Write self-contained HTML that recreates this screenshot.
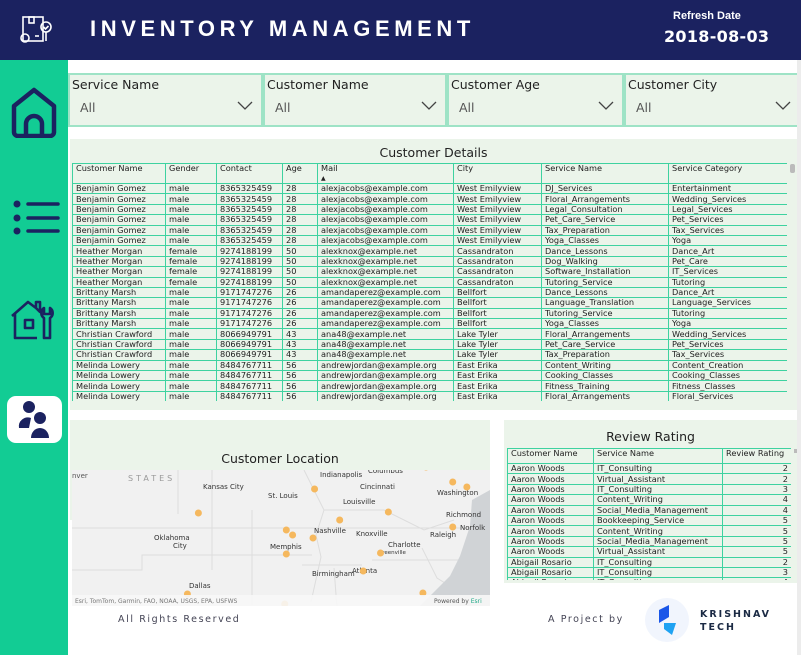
<!DOCTYPE html>
<html><head><meta charset="utf-8">
<style>
*{box-sizing:border-box;margin:0;padding:0}
body{width:801px;height:655px;overflow:hidden;background:#fff;font-family:"DejaVu Sans","Liberation Sans",sans-serif;position:relative;color:#222}
.abs{position:absolute}
#header{left:0;top:0;width:801px;height:60px;background:#1b2260}
#title{left:90px;top:16px;color:#fff;font:bold 22px "Liberation Sans",sans-serif;letter-spacing:4.6px}
#sidebar{left:0;top:60px;width:68px;height:595px;background:#12cc94}
.slicer{top:73px;height:54px;background:#ebf4ea;border:2px solid #9ee3c6}
.slicer .lbl{position:absolute;left:2px;top:2px;font-size:12.5px;color:#222}
.slicer .val{position:absolute;left:10px;top:25px;font-size:12.5px;color:#555}
.slicer .chev{position:absolute;right:8px;top:24px;width:16px;height:12px}
.panel{background:#ebf4ea}
table{border-collapse:collapse;font-size:8.2px;table-layout:fixed}
td,th{border:1px solid #3ed2a0;padding:0 3px;height:10.4px;line-height:9px;white-space:nowrap;overflow:hidden;text-align:left;font-weight:normal;color:#222}
th{height:15px;vertical-align:top;padding-top:0}
.num{text-align:right}
</style></head><body>
<div id="header" class="abs">
 <svg class="abs" style="left:17px;top:14px" width="40" height="32" viewBox="0 0 40 32" fill="none" stroke="#fff" stroke-width="1.6">
  <rect x="6" y="3" width="20" height="24"/><rect x="12" y="3" width="5" height="6"/><circle cx="29" cy="13" r="5"/><path d="M29 18v9M26.5 13l2 2 3-3"/><circle cx="8" cy="24" r="4"/><path d="M18 22h4"/>
 </svg>
 <div id="title" class="abs">INVENTORY MANAGEMENT</div>
 <div class="abs" style="left:673px;top:10px;color:#fff;font:bold 11px 'Liberation Sans',sans-serif">Refresh Date</div>
 <div class="abs" style="left:664px;top:27px;color:#fff;font:bold 16px 'DejaVu Sans',sans-serif;letter-spacing:.3px">2018-08-03</div>
</div>
<div id="sidebar" class="abs">
 <svg class="abs" style="left:10px;top:26px" width="48" height="52" viewBox="0 0 48 52" fill="none" stroke="#1b2260" stroke-width="4.5" stroke-linejoin="round"><path d="M4 20L24 4l20 16v26a4 4 0 0 1-4 4H8a4 4 0 0 1-4-4z"/><path d="M16 50V38a8 8 0 0 1 16 0v12"/></svg>
 <svg class="abs" style="left:12px;top:138px" width="48" height="40" viewBox="0 0 48 40" fill="#1b2260" stroke="#1b2260" stroke-width="3.5" stroke-linecap="round"><circle cx="5" cy="6" r="3.5" stroke="none"/><circle cx="5" cy="20" r="3.5" stroke="none"/><circle cx="5" cy="33" r="3.5" stroke="none"/><path d="M16 6h30M16 20h30M16 33h30"/></svg>
 <svg class="abs" style="left:10px;top:234px" width="50" height="46" viewBox="0 0 50 46" fill="none" stroke="#1b2260" stroke-width="2.6" stroke-linejoin="round"><path d="M2 22L18 8l8 6V8h4v10l-4-4M5 20v24h22"/><rect x="15" y="26" width="8" height="8"/><path d="M34 14a6 6 0 0 0 0 10v20h6V24a6 6 0 0 0 0-10v6h-6z"/></svg>
 <div class="abs" style="left:7px;top:336px;width:55px;height:47px;background:#fff;border-radius:9px">
  <svg width="55" height="47" viewBox="0 0 55 47" fill="#1b2260"><circle cx="22" cy="11" r="6"/><path d="M12 32a9 9 0 0 1 12-10l-2 10z"/><circle cx="33" cy="22" r="6"/><path d="M24 42a9 10 0 0 1 18 0z"/></svg>
 </div>
</div>

<div class="abs slicer" style="left:68px;width:195px"><div class="lbl">Service Name</div><div class="val">All</div><svg class="chev" viewBox="0 0 16 12"><path d="M1 3l7 7 7-7" fill="none" stroke="#444" stroke-width="1.3"/></svg></div>
<div class="abs slicer" style="left:263px;width:184px"><div class="lbl">Customer Name</div><div class="val">All</div><svg class="chev" viewBox="0 0 16 12"><path d="M1 3l7 7 7-7" fill="none" stroke="#444" stroke-width="1.3"/></svg></div>
<div class="abs slicer" style="left:447px;width:177px"><div class="lbl">Customer Age</div><div class="val">All</div><svg class="chev" viewBox="0 0 16 12"><path d="M1 3l7 7 7-7" fill="none" stroke="#444" stroke-width="1.3"/></svg></div>
<div class="abs slicer" style="left:624px;width:177px"><div class="lbl">Customer City</div><div class="val">All</div><svg class="chev" viewBox="0 0 16 12"><path d="M1 3l7 7 7-7" fill="none" stroke="#444" stroke-width="1.3"/></svg></div>
<div class="abs" style="left:797px;top:60px;width:4px;height:595px;background:#ececec"></div>

<div class="abs panel" style="left:70px;top:139px;width:727px;height:271px">
 <div class="abs" style="left:0;width:727px;top:6px;text-align:center;font-size:12.5px">Customer Details</div>
 <div class="abs" style="left:2px;top:24px;width:715px;height:238px;overflow:hidden">
  <table id="details" style="width:715px">
   <colgroup><col style="width:93px"><col style="width:51px"><col style="width:66px"><col style="width:35px"><col style="width:136px"><col style="width:88px"><col style="width:127px"><col style="width:119px"></colgroup>
   <thead><tr><th>Customer Name</th><th>Gender</th><th>Contact</th><th>Age</th><th>Mail<br><span style="font-size:6px">▲</span></th><th>City</th><th>Service Name</th><th>Service Category</th></tr></thead>
   <tbody id="dbody"></tbody>
  </table>
 </div>
 <div class="abs" style="left:720px;top:25px;width:5px;height:9px;background:#bbb;border-radius:2px"></div>
</div>

<div class="abs panel" style="left:70px;top:420px;width:420px;height:100px"></div>
<div class="abs" style="left:70px;top:451px;width:420px;text-align:center;font-size:12.5px">Customer Location</div>
<svg class="abs" style="left:72px;top:470px" width="418" height="136" viewBox="0 0 418 136" font-family="DejaVu Sans,sans-serif" font-size="7" fill="#333">
 <rect width="418" height="136" fill="#f1f1f1"/>
 <path d="M0 58h420M0 100h70l0-15 170 0M106 0v44M140 0v100M180 40v95M232 0l20 40-8 25 5 22-10 45M252 40h60l40 20 30-10M300 90h120M230 95h60M262 98l3 40M350 78l15 30 40 25" stroke="#ddd" fill="none"/>
 <path d="M400 30l18-10v116h-70l30-30 10-20 10-30z" fill="#d0d3d6"/>
 <text x="56" y="11" font-size="8" letter-spacing="3" fill="#999">STATES</text>
 <text x="0" y="8" fill="#555">nver</text>
 <text x="131" y="19">Kansas City</text><text x="196" y="28">St. Louis</text>
 <text x="248" y="7">Indianapolis</text><text x="296" y="3">Columbus</text>
 <text x="288" y="19">Cincinnati</text><text x="271" y="34">Louisville</text>
 <text x="365" y="25">Washington</text><text x="374" y="47">Richmond</text><text x="388" y="60">Norfolk</text>
 <text x="242" y="63">Nashville</text><text x="284" y="66">Knoxville</text><text x="358" y="67">Raleigh</text>
 <text x="82" y="70">Oklahoma</text><text x="101" y="78">City</text>
 <text x="198" y="79">Memphis</text><text x="316" y="77">Charlotte</text><text x="306" y="84" font-size="5.5">Greenville</text>
 <text x="240" y="106">Birmingham</text><text x="280" y="103">Atlanta</text><text x="117" y="118">Dallas</text>
 <g id="dots"></g>
 <rect y="125" width="418" height="11" fill="#f7f7f7" opacity=".9"/>
 <text x="3" y="133" font-size="6" fill="#777">Esri, TomTom, Garmin, FAO, NOAA, USGS, EPA, USFWS</text>
 <text x="362" y="133" font-size="6" fill="#555">Powered by <tspan fill="#2a8">Esri</tspan></text>
</svg>

<div class="abs panel" style="left:504px;top:420px;width:293px;height:163px">
 <div class="abs" style="left:0;width:293px;top:9px;text-align:center;font-size:12.5px">Review Rating</div>
 <div class="abs" style="left:3px;top:28px;width:284px;height:132px;overflow:hidden">
  <table style="width:284px">
   <colgroup><col style="width:86px"><col style="width:129px"><col style="width:69px"></colgroup>
   <thead><tr><th>Customer Name</th><th>Service Name</th><th>Review Rating</th></tr></thead>
   <tbody id="rbody"></tbody>
  </table>
 </div>
 <div class="abs" style="left:290px;top:29px;width:3px;height:4px;background:#bbb"></div>
</div>

<div class="abs" style="left:118px;top:614px;font-size:9.5px;letter-spacing:1.6px;color:#445">All Rights Reserved</div>
<div class="abs" style="left:548px;top:614px;font-size:9.5px;letter-spacing:1.6px;color:#445">A Project by</div>
<svg class="abs" style="left:644px;top:597px" width="46" height="46"><circle cx="23" cy="23" r="22" fill="#f1f5fd"/><path d="M15 13l10-5v12l-10 6z" fill="#1a56e8"/><path d="M20 26l12 0-4 12-8-6z" fill="#1fa2f2"/></svg>
<div class="abs" style="left:700px;top:608px;font:bold 9.5px 'DejaVu Sans',sans-serif;letter-spacing:2px;color:#1b2a44;line-height:13px">KRISHNAV<br>TECH</div>

<script>
const dNames=["Benjamin Gomez","Benjamin Gomez","Benjamin Gomez","Benjamin Gomez","Benjamin Gomez","Benjamin Gomez","Heather Morgan","Heather Morgan","Heather Morgan","Heather Morgan","Brittany Marsh","Brittany Marsh","Brittany Marsh","Brittany Marsh","Christian Crawford","Christian Crawford","Christian Crawford","Melinda Lowery","Melinda Lowery","Melinda Lowery","Melinda Lowery","Melinda Lowery"];
const dGender=["male","male","male","male","male","male","female","female","female","female","male","male","male","male","male","male","male","male","male","male","male","male"];
const dContact=["8365325459","8365325459","8365325459","8365325459","8365325459","8365325459","9274188199","9274188199","9274188199","9274188199","9171747276","9171747276","9171747276","9171747276","8066949791","8066949791","8066949791","8484767711","8484767711","8484767711","8484767711","8484767711"];
const dAge=[28,28,28,28,28,28,50,50,50,50,26,26,26,26,43,43,43,56,56,56,56,56];
const dMail=["alexjacobs@example.com","alexjacobs@example.com","alexjacobs@example.com","alexjacobs@example.com","alexjacobs@example.com","alexjacobs@example.com","alexknox@example.net","alexknox@example.net","alexknox@example.net","alexknox@example.net","amandaperez@example.com","amandaperez@example.com","amandaperez@example.com","amandaperez@example.com","ana48@example.net","ana48@example.net","ana48@example.net","andrewjordan@example.org","andrewjordan@example.org","andrewjordan@example.org","andrewjordan@example.org","andrewjordan@example.org"];
const dCity=["West Emilyview","West Emilyview","West Emilyview","West Emilyview","West Emilyview","West Emilyview","Cassandraton","Cassandraton","Cassandraton","Cassandraton","Bellfort","Bellfort","Bellfort","Bellfort","Lake Tyler","Lake Tyler","Lake Tyler","East Erika","East Erika","East Erika","East Erika","East Erika"];
const dService=["DJ_Services","Floral_Arrangements","Legal_Consultation","Pet_Care_Service","Tax_Preparation","Yoga_Classes","Dance_Lessons","Dog_Walking","Software_Installation","Tutoring_Service","Dance_Lessons","Language_Translation","Tutoring_Service","Yoga_Classes","Floral_Arrangements","Pet_Care_Service","Tax_Preparation","Content_Writing","Cooking_Classes","Fitness_Training","Floral_Arrangements","Handyman"];
const dCategory=["Entertainment","Wedding_Services","Legal_Services","Pet_Services","Tax_Services","Yoga","Dance_Art","Pet_Care","IT_Services","Tutoring","Dance_Art","Language_Services","Tutoring","Yoga","Wedding_Services","Pet_Services","Tax_Services","Content_Creation","Cooking_Classes","Fitness_Classes","Floral_Services","Handyman"];
const rNames=["Aaron Woods","Aaron Woods","Aaron Woods","Aaron Woods","Aaron Woods","Aaron Woods","Aaron Woods","Aaron Woods","Aaron Woods","Abigail Rosario","Abigail Rosario","Abigail Rosario"];
const rServices=["IT_Consulting","Virtual_Assistant","IT_Consulting","Content_Writing","Social_Media_Management","Bookkeeping_Service","Content_Writing","Social_Media_Management","Virtual_Assistant","IT_Consulting","IT_Consulting","IT_Consulting"];
const rRatings=[2,2,3,4,4,5,5,5,5,2,3,4];
const mapLon=[-94.1,-86.7,-85.1,-82.0,-88.5,-88.1,-86.8,-88.5,-82.5,-83.6,-77.9,-77.9,-77.0,-79.8,-88.6,-79.6,-94.8];
const mapLat=[37.45,38.65,37.1,37.5,36.6,36.35,36.2,35.4,35.45,34.55,36.75,39.0,38.75,33.45,32.9,39.75,33.4];

const db=document.getElementById('dbody');
for(let i=0;i<dNames.length;i++){
 const tr=document.createElement('tr');
 
 
 [dNames[i],dGender[i],dContact[i],dAge[i],dMail[i],dCity[i],dService[i],dCategory[i]].forEach(v=>{const td=document.createElement('td');td.textContent=v;tr.appendChild(td);});
 db.appendChild(tr);
}
const rb=document.getElementById('rbody');
for(let i=0;i<rNames.length;i++){
 const tr=document.createElement('tr');
 
 
 [rNames[i],rServices[i],rRatings[i]].forEach((v,j)=>{const td=document.createElement('td');td.textContent=v;if(j==2)td.className='num';tr.appendChild(td);});
 rb.appendChild(tr);
}
const xOf=lon=>241+(lon+86.8)*15.7;
const yOf=lat=>68-(lat-36.2)*20;
const g=document.getElementById('dots');
for(let i=0;i<mapLon.length;i++){
 const c=document.createElementNS('http://www.w3.org/2000/svg','circle');
 c.setAttribute('cx',xOf(mapLon[i]));c.setAttribute('cy',yOf(mapLat[i]));c.setAttribute('r',3.5);
 c.setAttribute('fill','#f5b85e');
 
 
 g.appendChild(c);
}
</script>
</body></html>
